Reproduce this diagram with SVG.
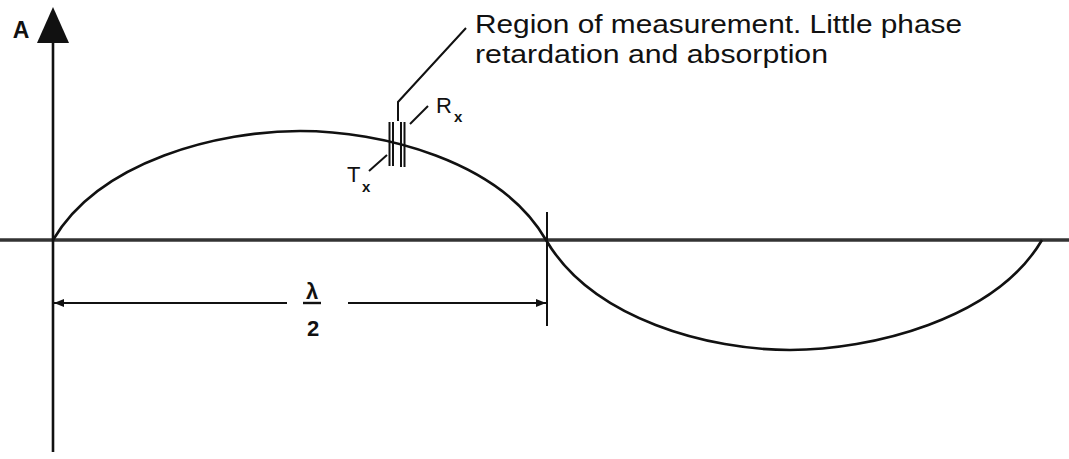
<svg xmlns="http://www.w3.org/2000/svg" width="1069" height="459" viewBox="0 0 1069 459">
<style>
.ln{fill:none;stroke:#111;stroke-width:2.6;stroke-linecap:butt}
.thin{fill:none;stroke:#111;stroke-width:2}
.t{font-family:"Liberation Sans",Arial,sans-serif;fill:#111}
</style>
<defs>
<marker id="ah" viewBox="0 0 10 8" refX="10" refY="4" markerWidth="10" markerHeight="8" markerUnits="userSpaceOnUse" orient="auto-start-reverse">
<path d="M0,0 L10,4 L0,8 Z" fill="#111"/>
</marker>
</defs>
<rect width="1069" height="459" fill="#fff"/>
<g id="axes">
<line x1="0" y1="240" x2="1069" y2="240" stroke="#333" stroke-width="3.4"/>
<line class="ln" x1="53" y1="40" x2="53" y2="452"/>
<path d="M53,7 L69,43 L37,43 Z" fill="#111"/>
<text class="t" x="21" y="38" font-size="23" font-weight="bold" text-anchor="middle">A</text>
</g>
<g id="wave">
<path class="ln" d="M53,240 C100,160 220,131 300,131 C380,131 500,160 546,240 C593,320 710,350 790,350 C870,350 995,320 1042,240"/>
</g>
<g id="dimension">
<line class="thin" x1="547" y1="212" x2="547" y2="326"/>
<line class="thin" x1="54" y1="303" x2="287" y2="303" marker-start="url(#ah)"/>
<line class="thin" x1="348" y1="303" x2="546" y2="303" marker-end="url(#ah)"/>
<text class="t" x="312" y="299" font-size="22" font-weight="bold" text-anchor="middle">λ</text>
<line x1="303" y1="303" x2="321" y2="303" stroke="#111" stroke-width="2.4"/>
<text class="t" x="313" y="336" font-size="22" font-weight="bold" text-anchor="middle">2</text>
</g>
<g id="transducers">
<line class="thin" x1="389.5" y1="122" x2="389.5" y2="166"/>
<line class="thin" x1="393" y1="122" x2="393" y2="166"/>
<line class="thin" x1="401" y1="122" x2="401" y2="167"/>
<line class="thin" x1="404.5" y1="122" x2="404.5" y2="167"/>
</g>
<g id="labels">
<polyline class="thin" points="466,28 398,102 398,121"/>
<text class="t" x="475" y="33" font-size="25" textLength="487" lengthAdjust="spacingAndGlyphs">Region of measurement. Little phase</text>
<text class="t" x="475" y="63" font-size="25" textLength="353" lengthAdjust="spacingAndGlyphs">retardation and absorption</text>
<line class="thin" x1="428" y1="106" x2="410" y2="124"/>
<text class="t" x="436" y="113" font-size="22">R</text>
<text class="t" x="454" y="122" font-size="15" font-weight="bold">x</text>
<line class="thin" x1="387" y1="155" x2="369" y2="171"/>
<text class="t" x="347" y="182" font-size="22">T</text>
<text class="t" x="362" y="192" font-size="15" font-weight="bold">x</text>
</g>
</svg>
